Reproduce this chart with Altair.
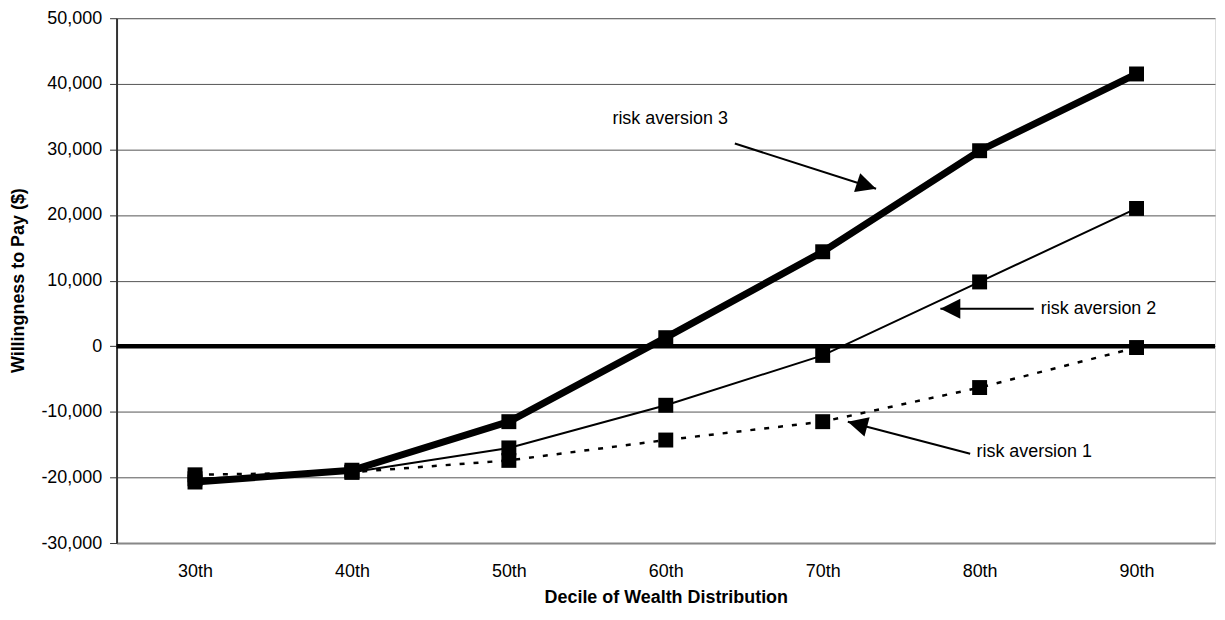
import altair as alt
import pandas as pd

categories = ["30th", "40th", "50th", "60th", "70th", "80th", "90th"]
risk_aversion_1 = [-19600, -19200, -17400, -14300, -11500, -6300, -200]
risk_aversion_2 = [-20200, -19200, -15500, -9000, -1400, 9800, 21000]
risk_aversion_3 = [-20700, -18900, -11500, 1300, 14400, 29800, 41500]
y_ticks = [-30000, -20000, -10000, 0, 10000, 20000, 30000, 40000, 50000]

# annotation labels (data coordinates: category index, value)
ann_text = ["risk aversion 3", "risk aversion 2", "risk aversion 1"]
ann_text_x = [2.66, 5.39, 4.98]
ann_text_y = [34600, 5700, -16100]
ann_from_x = [3.44, 5.345, 4.94]
ann_from_y = [30900, 5700, -16400]
ann_tip_x = [4.34, 4.75, 4.16]
ann_tip_y = [24000, 5700, -11500]
ann_angle = [108, 270, 285]

rows = []
for name, vals in [("risk aversion 1", risk_aversion_1),
                   ("risk aversion 2", risk_aversion_2),
                   ("risk aversion 3", risk_aversion_3)]:
    for i, (c, v) in enumerate(zip(categories, vals)):
        rows.append({"series": name, "idx": i, "decile": c, "value": v})
df = pd.DataFrame(rows)

ann = pd.DataFrame({"text": ann_text, "tx": ann_text_x, "ty": ann_text_y,
                    "fx": ann_from_x, "fy": ann_from_y,
                    "px": ann_tip_x, "py": ann_tip_y, "angle": ann_angle})

FONT = "Liberation Sans"
label_expr = "[" + ",".join("'%s'" % c for c in categories) + "][datum.value]"

xscale = alt.Scale(domain=[-0.5, 6.5], nice=False, zero=False)
yscale = alt.Scale(domain=[-30000, 50000], nice=False, zero=False)

x_axis = alt.Axis(values=list(range(len(categories))), labelExpr=label_expr,
                  title="Decile of Wealth Distribution", grid=False, ticks=False,
                  labelPadding=20, titlePadding=8, labelFontSize=18,
                  titleFontSize=18, titleFontWeight="bold", labelFont=FONT,
                  titleFont=FONT, labelColor="#000000", titleColor="#000000",
                  domainColor="#888888", domainWidth=2)
y_axis = alt.Axis(values=y_ticks,
                  labelExpr="replace(format(datum.value, ','), '\u2212', '-')",
                  title="Willingness to Pay ($)",
                  grid=True, gridColor="#555555", gridWidth=1,
                  tickSize=7, tickColor="#333333", tickWidth=1,
                  labelPadding=8, labelFontSize=18, titleFontSize=18,
                  titleFontWeight="bold", labelFont=FONT, titleFont=FONT,
                  labelColor="#000000", titleColor="#000000",
                  domainColor="#333333", domainWidth=2,
                  titleX=-98, titleY=263, titleBaseline="middle", titleAngle=270,
                  titleAlign="center")

base = alt.Chart(df)
X = alt.X("idx:Q", scale=xscale, axis=x_axis)
Y = alt.Y("value:Q", scale=yscale, axis=y_axis)

zero_line = alt.Chart(pd.DataFrame({"z": [0]})).mark_rule(
    color="#000000", strokeWidth=4.5).encode(y=alt.Y("z:Q", scale=yscale, axis=y_axis))

line1 = base.transform_filter(alt.datum.series == "risk aversion 1").mark_line(
    color="#000000", strokeWidth=2.5, strokeDash=[5, 9]).encode(x=X, y=Y)
line2 = base.transform_filter(alt.datum.series == "risk aversion 2").mark_line(
    color="#000000", strokeWidth=2).encode(x=X, y=Y)
line3 = base.transform_filter(alt.datum.series == "risk aversion 3").mark_line(
    color="#000000", strokeWidth=7).encode(x=X, y=Y)
points = base.mark_point(shape="square", size=225, filled=True, color="#000000",
                         opacity=1).encode(x=X, y=Y)

ann_base = alt.Chart(ann)
texts = ann_base.mark_text(align="left", baseline="middle", fontSize=18,
                           font=FONT, color="#000000").encode(
    x=alt.X("tx:Q", scale=xscale, axis=x_axis),
    y=alt.Y("ty:Q", scale=yscale, axis=y_axis), text="text:N")
shafts = ann_base.mark_rule(color="#000000", strokeWidth=2).encode(
    x=alt.X("fx:Q", scale=xscale, axis=x_axis),
    y=alt.Y("fy:Q", scale=yscale, axis=y_axis),
    x2="px:Q", y2="py:Q")
heads = ann_base.mark_point(shape="M0,0L1,2L-1,2Z", size=400, filled=True,
                            color="#000000", opacity=1).encode(
    x=alt.X("px:Q", scale=xscale, axis=x_axis),
    y=alt.Y("py:Q", scale=yscale, axis=y_axis),
    angle=alt.Angle("angle:Q", scale=None))

chart = alt.layer(zero_line, line1, line2, line3, points, shafts, heads, texts).properties(
    width=1103, height=527,
    padding={"left": 109, "top": 9, "right": 2, "bottom": 68},
    autosize=alt.AutoSizeParams(type="none"),
).configure_view(stroke="#888888", strokeWidth=2).configure(background="#ffffff")

chart.save("out.html", embed_options={"renderer": "svg", "actions": False})
